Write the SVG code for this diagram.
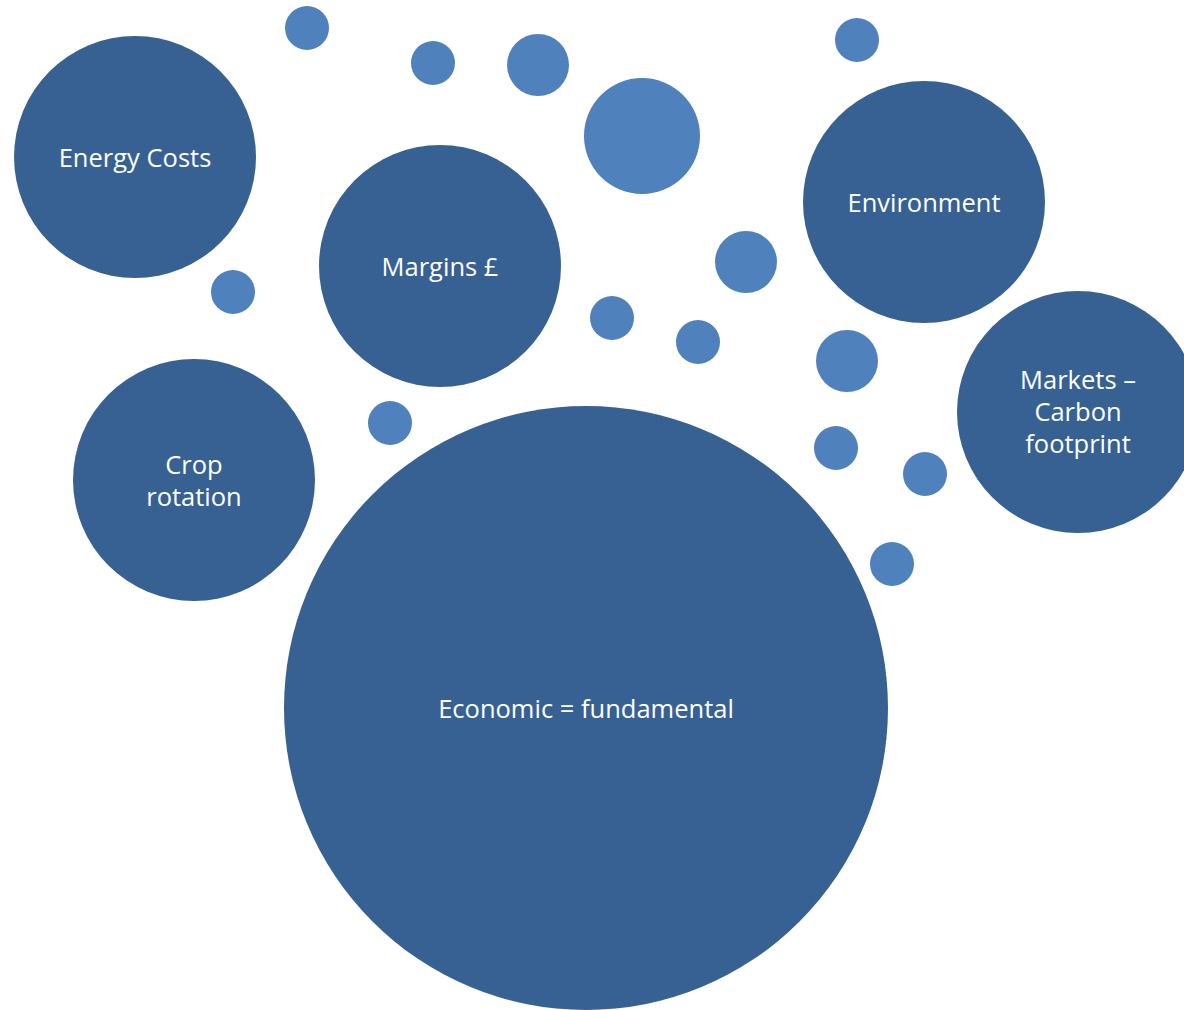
<svg xmlns="http://www.w3.org/2000/svg" width="1184" height="1010" viewBox="0 0 1184 1010">
<style>
.big{fill:#376192}
.dot{fill:#4F81BD}
text{font-family:"Open Sans","Noto Sans",sans-serif;font-size:25.5px;fill:#ffffff;text-anchor:middle;dominant-baseline:central}
</style>
<rect width="1184" height="1010" fill="#ffffff"/>
<g id="connectors"/>
<g id="dots">
<circle class="dot" cx="307" cy="28" r="22"/>
<circle class="dot" cx="433" cy="63" r="22"/>
<circle class="dot" cx="538" cy="65" r="31"/>
<circle class="dot" cx="642" cy="136" r="58"/>
<circle class="dot" cx="857" cy="40" r="22"/>
<circle class="dot" cx="746" cy="262" r="31"/>
<circle class="dot" cx="612" cy="318" r="22"/>
<circle class="dot" cx="698" cy="342" r="22"/>
<circle class="dot" cx="233" cy="292" r="22"/>
<circle class="dot" cx="390" cy="423" r="22"/>
<circle class="dot" cx="847" cy="361" r="31"/>
<circle class="dot" cx="836" cy="448" r="22"/>
<circle class="dot" cx="925" cy="474" r="22"/>
<circle class="dot" cx="892" cy="564" r="22"/>
</g>
<g id="energy"><circle class="big" cx="135" cy="157" r="121"/><text x="135" y="157">Energy Costs</text></g>
<g id="margins"><circle class="big" cx="440" cy="266" r="121"/><text x="440" y="266">Margins £</text></g>
<g id="environment"><circle class="big" cx="924" cy="202" r="121"/><text x="924" y="202">Environment</text></g>
<g id="markets"><circle class="big" cx="1078" cy="412" r="121"/><text x="1078" y="379">Markets –</text><text x="1078" y="411">Carbon</text><text x="1078" y="443">footprint</text></g>
<g id="crop"><circle class="big" cx="194" cy="480" r="121"/><text x="194" y="464">Crop</text><text x="194" y="496">rotation</text></g>
<g id="economic"><circle class="big" cx="586" cy="708" r="302"/><text x="586" y="708">Economic = fundamental</text></g>
</svg>
